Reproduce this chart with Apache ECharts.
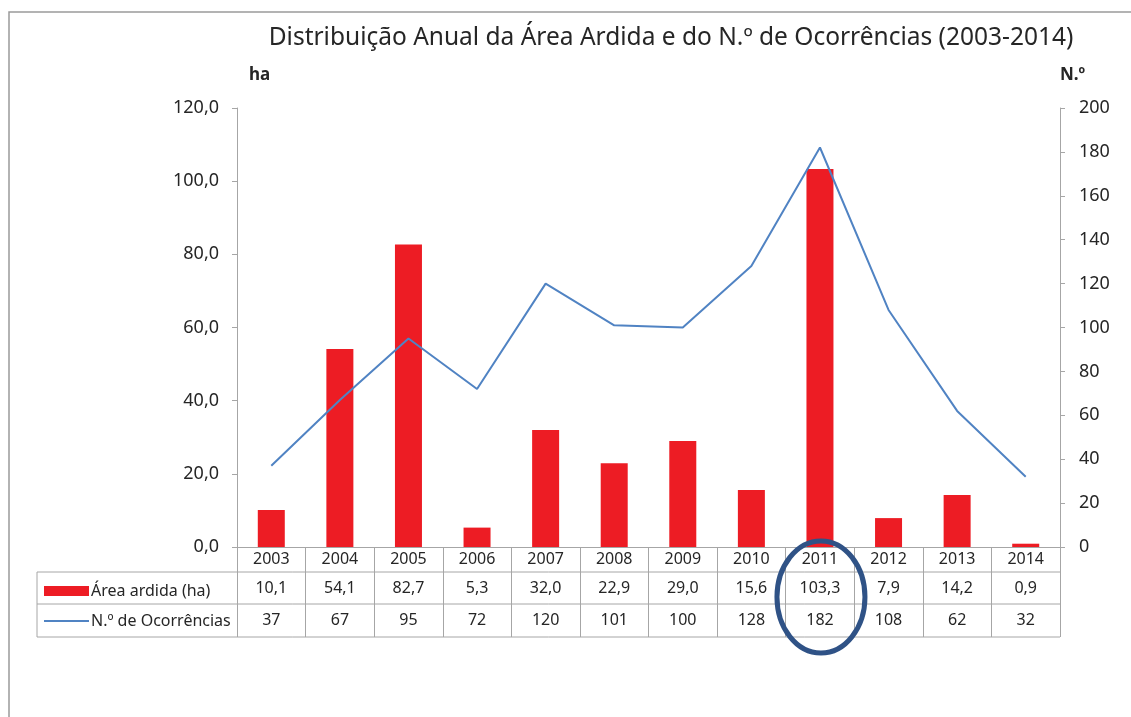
<!DOCTYPE html>
<html>
<head>
<meta charset="utf-8">
<script src="https://cdn.jsdelivr.net/npm/echarts@6/dist/echarts.min.js"></script>
<style>
  html, body { margin: 0; padding: 0; background: #fff; }
  #chart { width: 1131px; height: 717px; }
</style>
</head>
<body>
<div id="chart"></div>
<script>
const years = ['2003', '2004', '2005', '2006', '2007', '2008', '2009', '2010', '2011', '2012', '2013', '2014']
const areaArdida = [10.1, 54.1, 82.7, 5.3, 32.0, 22.9, 29.0, 15.6, 103.3, 7.9, 14.2, 0.9]
const ocorrencias = [37, 67, 95, 72, 120, 101, 100, 128, 182, 108, 62, 32]
const highlightYear = '2011'

const FONT = '"Noto Sans", sans-serif'
const TEXT = '#262626'
const GRID_LINE = '#a6a6a6'
const gridLeft = 237, gridRight = 71, gridTop = 108, gridBottom = 170
const tableLeft = 37

const fmt = v => v.toFixed(1).replace('.', ',')

const chart = echarts.init(document.getElementById('chart'))

const option = {
  backgroundColor: '#fff',
  animation: false,
  textStyle: { fontFamily: FONT, color: TEXT },
  title: {
    text: 'Distribuição Anual da Área Ardida e do N.º de Ocorrências (2003-2014)',
    left: 666, top: 21, textAlign: 'center',
    textStyle: { fontFamily: FONT, fontSize: 24.5, fontWeight: 'normal', color: TEXT }
  },
  legend: {
    orient: 'vertical',
    left: 44, top: 581, padding: 0,
    itemWidth: 45, itemHeight: 10, itemGap: 10,
    textStyle: { fontFamily: FONT, fontSize: 16, color: TEXT, padding: [0, 0, 0, -3], lineHeight: 20 },
    data: [
      { name: 'Área ardida (ha)', icon: 'rect' },
      { name: 'N.º de Ocorrências', icon: 'path://M0,0h45v2h-45z' }
    ]
  },
  grid: { left: gridLeft, right: gridRight, top: gridTop, bottom: gridBottom },
  xAxis: {
    type: 'category',
    data: years,
    boundaryGap: true,
    axisLine: { lineStyle: { color: GRID_LINE } },
    axisTick: { show: true, length: 90, lineStyle: { color: GRID_LINE } },
    axisLabel: {
      interval: 0, margin: 0,
      formatter: (val, i) => `{y|${val}}\n{a|${fmt(areaArdida[i])}}\n{n|${ocorrencias[i]}}`,
      rich: {
        y: { fontFamily: FONT, fontSize: 16, color: TEXT, lineHeight: 25 },
        a: { fontFamily: FONT, fontSize: 16, color: TEXT, lineHeight: 32 },
        n: { fontFamily: FONT, fontSize: 16, color: TEXT, lineHeight: 33 }
      }
    }
  },
  yAxis: [
    {
      type: 'value', min: 0, max: 120, interval: 20,
      name: 'ha', nameLocation: 'end', nameGap: 24,
      nameTextStyle: { fontFamily: FONT, fontSize: 17, fontWeight: 'bold', color: TEXT, align: 'left', padding: [0, 0, 0, 12] },
      axisLine: { show: true, lineStyle: { color: GRID_LINE } },
      axisTick: { show: true, length: 5, lineStyle: { color: GRID_LINE } },
      axisLabel: { fontFamily: FONT, fontSize: 18, color: TEXT, margin: 18, formatter: v => fmt(v) },
      splitLine: { show: false }
    },
    {
      type: 'value', min: 0, max: 200, interval: 20,
      name: 'N.º', nameLocation: 'end', nameGap: 24,
      nameTextStyle: { fontFamily: FONT, fontSize: 17, fontWeight: 'bold', color: TEXT, align: 'left', padding: [0, 0, 0, 0] },
      axisLine: { show: true, lineStyle: { color: GRID_LINE } },
      axisTick: { show: true, length: 5, lineStyle: { color: GRID_LINE } },
      axisLabel: { fontFamily: FONT, fontSize: 18, color: TEXT, margin: 19 },
      splitLine: { show: false }
    }
  ],
  series: [
    {
      name: 'Área ardida (ha)',
      type: 'bar',
      yAxisIndex: 0,
      data: areaArdida,
      barWidth: 27,
      itemStyle: { color: '#ed1c24' }
    },
    {
      name: 'N.º de Ocorrências',
      type: 'line',
      yAxisIndex: 1,
      data: ocorrencias,
      symbol: 'none',
      lineStyle: { color: '#5083c3', width: 2 },
      itemStyle: { color: '#5083c3' }
    }
  ]
}

chart.setOption(option)

// table grid lines and highlight ellipse, placed from the chart's own scale
const W = chart.getWidth(), H = chart.getHeight()
const axisY = H - gridBottom
const tableRight = W - gridRight
const rowLines = [axisY + 25, axisY + 57, axisY + 90]
const hx = chart.convertToPixel({ xAxisIndex: 0 }, highlightYear)
const graphics = [
  { type: 'rect', shape: { x: 9, y: 12, width: W + 20, height: H + 20 }, style: { fill: 'none', stroke: '#9a9a9a', lineWidth: 1.5 }, silent: true },
  { type: 'line', shape: { x1: tableLeft, y1: rowLines[0], x2: tableLeft, y2: rowLines[2] }, style: { stroke: GRID_LINE, lineWidth: 1 } }
]
rowLines.forEach(y => graphics.push({
  type: 'line', shape: { x1: tableLeft, y1: y, x2: tableRight, y2: y }, style: { stroke: GRID_LINE, lineWidth: 1 }
}))
graphics.push({
  type: 'ellipse', z: 100,
  shape: { cx: hx + 1, cy: axisY + 50, rx: 44, ry: 56 },
  style: { fill: 'none', stroke: '#2f5286', lineWidth: 5 }
})
chart.setOption({ graphic: graphics })
</script>
</body>
</html>
